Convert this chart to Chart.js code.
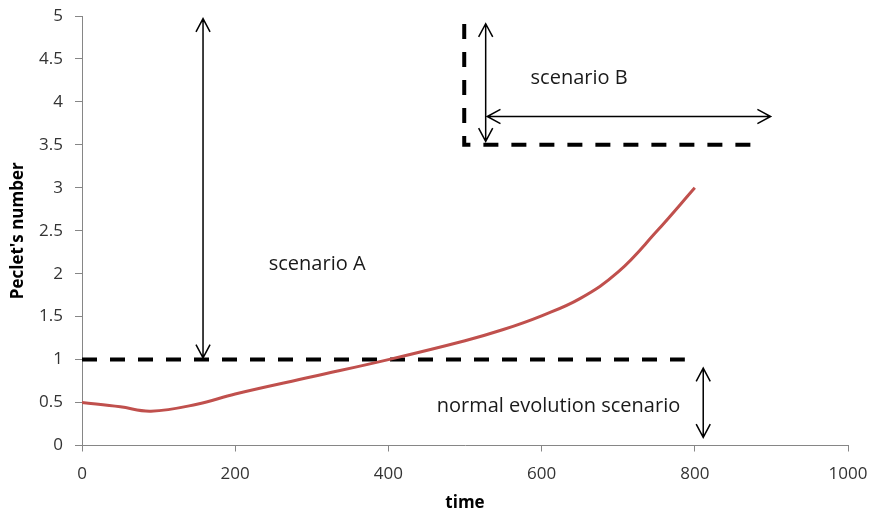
<!DOCTYPE html>
<html>
<head>
<meta charset="utf-8">
<script src="https://cdn.jsdelivr.net/npm/chart.js@4.4.1/dist/chart.umd.min.js"></script>
<style>
  html, body { margin: 0; padding: 0; background: #fff; }
  #wrap { width: 873px; height: 519px; }
</style>
</head>
<body>
<div id="wrap"><canvas id="peclet" width="873" height="519"></canvas></div>
<script>
// Peclet's number over time
const timeValues   = [0, 50, 90, 150, 200, 300, 400, 500, 550, 600, 650, 700, 750, 800];
const pecletValues = [0.50, 0.45, 0.40, 0.48, 0.60, 0.80, 1.00, 1.22, 1.35, 1.51, 1.71, 2.02, 2.49, 3.00];

// dashed limit for the normal evolution
const thresholdX = [0, 787];
const thresholdY = [1, 1];

// dashed corner of scenario B
const scenarioBX = [499, 499, 883];
const scenarioBY = [5, 3.5, 3.5];

// double arrows: [x1, y1, x2, y2] in data units
const arrowScenarioA = [158, 1.02, 158, 4.97];
const arrowScenarioBUp = [527, 3.54, 527, 4.91];
const arrowScenarioBRight = [529, 3.83, 899, 3.83];
const arrowNormal = [811, 0.095, 811, 0.90];

// text labels
const noteTexts = ['scenario A', 'scenario B', 'normal evolution scenario'];
const noteX = [307, 649, 622];
const noteY = [2.11, 4.28, 0.46];

const xTicks = [0, 200, 400, 600, 800, 1000];
const yTicks = [0, 0.5, 1, 1.5, 2, 2.5, 3, 3.5, 4, 4.5, 5];

function toPoints(xs, ys){
    return xs.map((x, i) => ({x: x, y: ys[i]}));
}

function drawArrow(ctx, x1, y1, x2, y2){
    var len = 15, spread = 28 * Math.PI / 180;
    ctx.beginPath();
    ctx.moveTo(x1, y1);
    ctx.lineTo(x2, y2);
    [[x1, y1, x2, y2], [x2, y2, x1, y1]].forEach(function(s){
        var a = Math.atan2(s[3] - s[1], s[2] - s[0]);
        ctx.moveTo(s[2] - len * Math.cos(a - spread), s[3] - len * Math.sin(a - spread));
        ctx.lineTo(s[2], s[3]);
        ctx.lineTo(s[2] - len * Math.cos(a + spread), s[3] - len * Math.sin(a + spread));
    });
    ctx.stroke();
}

// no extra room for the outer tick labels, the plot area is fixed
function noLabelPadding(s){
    s.paddingLeft = 0; s.paddingRight = 0; s.paddingTop = 0; s.paddingBottom = 0;
}

const notesPlugin = {
    id: 'notes',
    afterDatasetsDraw(chart){
        var ctx = chart.ctx, xs = chart.scales.x, ys = chart.scales.y;
        ctx.save();
        ctx.strokeStyle = '#000';
        ctx.lineWidth = 1.5;
        [arrowScenarioA, arrowScenarioBUp, arrowScenarioBRight, arrowNormal].forEach(function(a){
            drawArrow(ctx, xs.getPixelForValue(a[0]), ys.getPixelForValue(a[1]),
                           xs.getPixelForValue(a[2]), ys.getPixelForValue(a[3]));
        });
        ctx.fillStyle = '#1a1a1a';
        ctx.font = '20px "Open Sans"';
        ctx.textAlign = 'center';
        ctx.textBaseline = 'middle';
        noteTexts.forEach(function(t, i){
            ctx.fillText(t, xs.getPixelForValue(noteX[i]), ys.getPixelForValue(noteY[i]));
        });
        ctx.restore();
    }
};

var ctx = document.getElementById('peclet').getContext('2d');
var chart = new Chart(ctx, {
    type: 'scatter',
    data: {
        datasets: [
            {
                label: 'Peclet',
                data: toPoints(timeValues, pecletValues),
                showLine: true,
                borderColor: '#C0504D',
                borderWidth: 3,
                pointRadius: 0,
                tension: 0.4
            },
            {
                label: 'threshold',
                data: toPoints(thresholdX, thresholdY),
                showLine: true,
                borderColor: '#000',
                borderWidth: 4,
                borderDash: [15, 13],
                pointRadius: 0
            },
            {
                label: 'scenario B',
                data: toPoints(scenarioBX, scenarioBY),
                showLine: true,
                borderColor: '#000',
                borderWidth: 4,
                borderDash: [15, 13],
                borderDashOffset: 20,
                borderJoinStyle: 'miter',
                pointRadius: 0
            }
        ]
    },
    options: {
        responsive: false,
        animation: false,
        layout: { padding: { top: 16, right: 25, bottom: 0, left: 0 } },
        plugins: {
            legend: { display: false },
            tooltip: { enabled: false }
        },
        scales: {
            x: {
                type: 'linear',
                min: 0, max: 1000,
                afterBuildTicks: s => { s.ticks = xTicks.map(v => ({value: v})); },
                afterFit: s => { s.height = 73.5; noLabelPadding(s); },
                border: { color: '#868686', width: 1 },
                grid: { drawOnChartArea: false, drawTicks: true, tickLength: 6, color: '#868686' },
                ticks: {
                    color: '#333',
                    padding: 12,
                    maxRotation: 0,
                    font: { family: '"Open Sans"', size: 17 },
                    callback: v => String(v)
                },
                title: {
                    display: true,
                    text: 'time',
                    color: '#000',
                    font: { family: '"Open Sans"', size: 17, weight: 'bold' },
                    padding: { top: 0, bottom: 6 }
                }
            },
            y: {
                type: 'linear',
                min: 0, max: 5,
                afterBuildTicks: s => { s.ticks = yTicks.map(v => ({value: v})); },
                afterFit: s => { s.width = 82; noLabelPadding(s); },
                border: { color: '#868686', width: 1 },
                grid: { drawOnChartArea: false, drawTicks: true, tickLength: 7, color: '#868686' },
                ticks: {
                    color: '#333',
                    padding: 12,
                    font: { family: '"Open Sans"', size: 17 },
                    callback: v => String(v)
                },
                title: {
                    display: true,
                    text: "Peclet's number",
                    color: '#000',
                    font: { family: '"Open Sans"', size: 17, weight: 'bold' },
                    padding: { top: 8, bottom: 0 }
                }
            }
        }
    },
    plugins: [notesPlugin]
});
</script>
</body>
</html>
